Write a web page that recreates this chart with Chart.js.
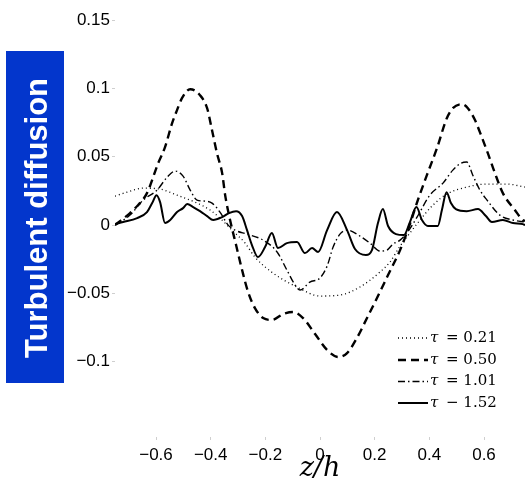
<!DOCTYPE html>
<html>
<head>
<meta charset="utf-8">
<script src="https://cdn.jsdelivr.net/npm/chart.js@4/dist/chart.umd.min.js"></script>
<style>
  html, body { margin: 0; padding: 0; background: #fff; }
  #wrap { width: 529px; height: 482px; }
</style>
</head>
<body>
<div id="wrap"><canvas id="c" width="529" height="482"></canvas></div>
<script>
// Turbulent diffusion profiles across z/h at four times tau
const xTicks = [-0.6, -0.4, -0.2, 0, 0.2, 0.4, 0.6];
const yTicks = [-0.1, -0.05, 0, 0.05, 0.1, 0.15];

const tauValues = ['0.21', '0.50', '1.01', '1.52'];
const tauRelations = ['=', '=', '=', '\u2212'];

// tau = 0.21
const z021 = [-0.75, -0.706, -0.647, -0.585, -0.523, -0.450, -0.402, -0.366, -0.322, -0.274, -0.238, -0.172, -0.084, 0, 0.073, 0.146, 0.219, 0.256, 0.293, 0.329, 0.366, 0.413, 0.464, 0.537, 0.611, 0.684, 0.75];
const f021 = [0.0212, 0.0241, 0.0270, 0.0263, 0.0219, 0.0161, 0.0110, 0.0051, -0.0037, -0.0132, -0.0234, -0.0351, -0.0453, -0.0519, -0.0512, -0.0453, -0.0344, -0.0270, -0.0154, -0.0058, 0.0037, 0.0146, 0.0227, 0.0278, 0.0300, 0.0300, 0.0278];

// tau = 0.50
const z050 = [-0.75, -0.695, -0.676, -0.633, -0.592, -0.567, -0.541, -0.523, -0.505, -0.475, -0.439, -0.413, -0.395, -0.377, -0.358, -0.347, -0.329, -0.307, -0.285, -0.263, -0.238, -0.208, -0.176, -0.135, -0.099, -0.062, -0.018, 0.026, 0.066, 0.099, 0.135, 0.172, 0.212, 0.249, 0.293, 0.329, 0.358, 0.391, 0.428, 0.464, 0.486, 0.519, 0.541, 0.567, 0.592, 0.614, 0.640, 0.669, 0.713, 0.742, 0.75];
const f050 = [0, 0.0088, 0.0124, 0.0234, 0.0453, 0.0570, 0.0746, 0.0841, 0.0928, 0.0994, 0.0950, 0.0855, 0.0694, 0.0526, 0.0380, 0.0219, 0.0037, -0.0146, -0.0329, -0.0490, -0.0607, -0.0680, -0.0694, -0.0651, -0.0636, -0.0680, -0.0797, -0.0914, -0.0965, -0.0936, -0.0826, -0.0680, -0.0519, -0.0365, -0.0183, 0.0007, 0.0183, 0.0365, 0.0563, 0.0782, 0.0855, 0.0884, 0.0855, 0.0768, 0.0643, 0.0526, 0.0380, 0.0234, 0.0110, 0.0037, 0.0030];

// tau = 1.01
const z101 = [-0.75, -0.695, -0.647, -0.596, -0.559, -0.530, -0.501, -0.475, -0.450, -0.420, -0.395, -0.366, -0.336, -0.311, -0.267, -0.208, -0.157, -0.121, -0.091, -0.073, -0.037, 0, 0.026, 0.048, 0.073, 0.099, 0.146, 0.183, 0.219, 0.245, 0.267, 0.293, 0.318, 0.355, 0.402, 0.450, 0.486, 0.516, 0.537, 0.559, 0.585, 0.611, 0.658, 0.706, 0.75];
const f101 = [0, 0.0073, 0.0183, 0.0256, 0.0351, 0.0395, 0.0358, 0.0256, 0.0183, 0.0175, 0.0161, 0.0095, 0, -0.0037, -0.0066, -0.0110, -0.0197, -0.0329, -0.0439, -0.0475, -0.0417, -0.0387, -0.0300, -0.0161, -0.0066, -0.0037, -0.0080, -0.0132, -0.0190, -0.0183, -0.0139, -0.0110, -0.0058, 0.0058, 0.0219, 0.0307, 0.0402, 0.0453, 0.0461, 0.0365, 0.0256, 0.0183, 0.0073, 0.0037, 0.0022];

// tau = 1.52
const z152 = [-0.75, -0.720, -0.669, -0.633, -0.614, -0.598, -0.585, -0.567, -0.548, -0.523, -0.501, -0.486, -0.464, -0.439, -0.413, -0.391, -0.358, -0.333, -0.307, -0.285, -0.267, -0.249, -0.227, -0.201, -0.176, -0.154, -0.121, -0.084, -0.055, -0.029, -0.007, 0.026, 0.062, 0.099, 0.128, 0.168, 0.190, 0.212, 0.230, 0.249, 0.278, 0.307, 0.329, 0.353, 0.373, 0.395, 0.431, 0.446, 0.463, 0.479, 0.497, 0.537, 0.578, 0.607, 0.629, 0.669, 0.706, 0.742, 0.75];
const f152 = [0.0007, 0.0022, 0.0051, 0.0095, 0.0161, 0.0219, 0.0168, 0.0015, 0.0037, 0.0095, 0.0124, 0.0154, 0.0132, 0.0102, 0.0066, 0.0037, 0.0058, 0.0088, 0.0102, 0.0066, -0.0037, -0.0146, -0.0234, -0.0161, -0.0058, -0.0168, -0.0132, -0.0124, -0.0205, -0.0168, -0.0197, -0.0037, 0.0095, -0.0037, -0.0175, -0.0219, -0.0183, 0.0015, 0.0117, -0.0007, -0.0066, -0.0073, 0.0022, 0.0132, 0.0037, -0.0007, -0.0007, 0.0110, 0.0241, 0.0161, 0.0117, 0.0102, 0.0117, 0.0066, 0.0022, 0.0037, 0.0015, 0.0007, 0];

const pairs = (zs, fs) => zs.map((z, i) => ({ x: z, y: fs[i] }));

const lineStyles = [
  { width: 1.3, dash: [1, 3] },
  { width: 2.4, dash: [8, 5] },
  { width: 1.4, dash: [7, 3, 1.5, 3] },
  { width: 2.0, dash: [] }
];

const series = [pairs(z021, f021), pairs(z050, f050), pairs(z101, f101), pairs(z152, f152)];

const datasets = series.map((pts, i) => ({
  label: '\u03c4 ' + tauRelations[i] + ' ' + tauValues[i],
  data: pts,
  borderColor: '#000',
  borderWidth: lineStyles[i].width,
  borderDash: lineStyles[i].dash,
  pointRadius: 0,
  fill: false,
  cubicInterpolationMode: 'monotone'
}));

const minus = v => (v < 0 ? '\u2212' : '') + String(Math.abs(v));

// Blue vertical title box on the left
const sideTitle = {
  id: 'sideTitle',
  afterDraw(chart) {
    const ctx = chart.ctx;
    ctx.save();
    ctx.fillStyle = '#0336cc';
    ctx.fillRect(6, 51, 58, 332);
    ctx.translate(35, 218);
    ctx.rotate(-Math.PI / 2);
    ctx.fillStyle = '#fff';
    ctx.font = 'bold 31px "Liberation Sans", Arial, sans-serif';
    ctx.textAlign = 'center';
    ctx.textBaseline = 'alphabetic';
    ctx.fillText('Turbulent diffusion', 0, 12);
    ctx.restore();
  }
};

// Math-style x label under the axis
const bottomTitle = {
  id: 'bottomTitle',
  afterDraw(chart) {
    const ctx = chart.ctx;
    ctx.save();
    ctx.fillStyle = '#000';
    ctx.font = 'italic 27px "DejaVu Serif", serif';
    ctx.textAlign = 'center';
    ctx.textBaseline = 'alphabetic';
    ctx.fillText('z/h', 320, 476);
    ctx.restore();
  }
};

// Legend drawn inside the plot, lower right
const innerLegend = {
  id: 'innerLegend',
  afterDraw(chart) {
    const ctx = chart.ctx;
    const x0 = 398, x1 = 428, rowY = [338, 360, 381.5, 403];
    ctx.save();
    ctx.fillStyle = '#fff';
    ctx.fillRect(394, 327, 119, 95);
    chart.data.datasets.forEach((ds, i) => {
      const y = rowY[i];
      ctx.save();
      ctx.strokeStyle = '#000';
      ctx.lineWidth = ds.borderWidth;
      ctx.setLineDash(ds.borderDash);
      ctx.beginPath();
      ctx.moveTo(x0, y);
      ctx.lineTo(x1, y);
      ctx.stroke();
      ctx.restore();
      ctx.fillStyle = '#000';
      ctx.textBaseline = 'middle';
      ctx.textAlign = 'left';
      ctx.font = 'italic 15px "DejaVu Serif", serif';
      ctx.fillText('\u03c4', 430, y);
      ctx.font = '15px "DejaVu Serif", serif';
      ctx.fillText(tauRelations[i] + ' ' + tauValues[i], 446, y);
    });
    ctx.restore();
  }
};

new Chart(document.getElementById('c'), {
  type: 'line',
  data: { datasets },
  options: {
    responsive: false,
    animation: false,
    devicePixelRatio: 1,
    layout: { padding: { top: 20, right: 4, left: 0, bottom: 0 } },
    plugins: { legend: { display: false }, tooltip: { enabled: false } },
    scales: {
      x: {
        type: 'linear',
        min: -0.75,
        max: 0.75,
        afterBuildTicks: s => { s.ticks = xTicks.map(v => ({ value: v })); },
        afterFit: s => { s.height = 45; },
        border: { display: false },
        grid: { drawOnChartArea: false, drawTicks: true, tickLength: 3, color: '#cfcfcf' },
        ticks: {
          padding: 5,
          color: '#000',
          font: { family: '"Liberation Sans", Arial, sans-serif', size: 17 },
          callback: v => minus(v),
          maxRotation: 0
        }
      },
      y: {
        type: 'linear',
        min: -0.155,
        max: 0.15,
        afterBuildTicks: s => { s.ticks = yTicks.map(v => ({ value: v })); },
        afterFit: s => { s.width = 115; },
        border: { display: false },
        grid: { drawOnChartArea: false, drawTicks: true, tickLength: 3, color: '#cfcfcf' },
        ticks: {
          padding: 2,
          color: '#000',
          font: { family: '"Liberation Sans", Arial, sans-serif', size: 17 },
          callback: v => minus(v)
        }
      }
    }
  },
  plugins: [sideTitle, bottomTitle, innerLegend]
});
</script>
</body>
</html>
